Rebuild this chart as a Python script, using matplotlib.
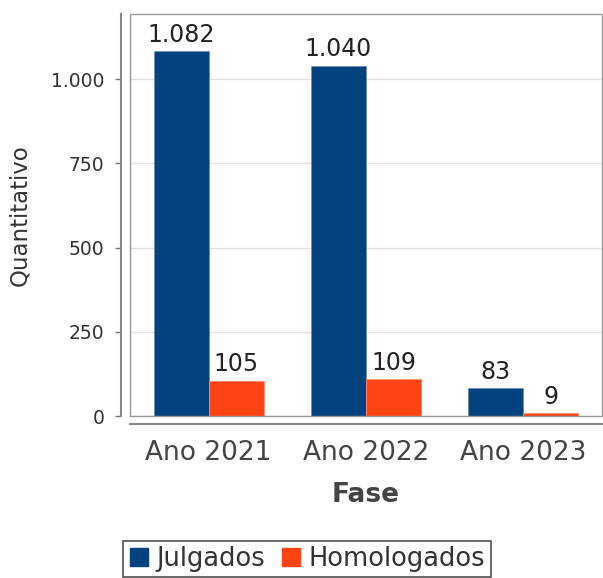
import numpy as np
import matplotlib
matplotlib.use("Agg")
import matplotlib.pyplot as plt
from matplotlib.patches import Rectangle
from matplotlib.lines import Line2D

# data
categorias = ["Ano 2021", "Ano 2022", "Ano 2023"]
julgados = [1082, 1040, 83]
homologados = [105, 109, 9]
yticks = [0, 250, 500, 750, 1000]
ytick_labels = ["0", "250", "500", "750", "1.000"]

cor_julg = "#02427f"
cor_homo = "#ff4312"

fig = plt.figure(figsize=(6.03, 5.78), dpi=100)
ax = fig.add_axes([130/603, 162/578, 472/603, 402/578])

x = np.arange(len(categorias))
w = 0.35
b1 = ax.bar(x - w/2, julgados, w, color=cor_julg, edgecolor="#6f8fb8", linewidth=0.6, zorder=3)
b2 = ax.bar(x + w/2, homologados, w, color=cor_homo, edgecolor="#ff8c70", linewidth=0.6, zorder=3)

def fmt(v):
    return "{:,}".format(v).replace(",", ".")

for bars, vals in [(b1, julgados), (b2, homologados)]:
    for r, v in zip(bars, vals):
        ax.annotate(fmt(v), (r.get_x() + r.get_width()/2, r.get_height()),
                    xytext=(0, 3), textcoords="offset points",
                    ha="center", va="bottom", fontsize=17, color="#222222")

ax.set_xlim(-0.5, 2.5)
ax.set_ylim(0, 1193)
ax.set_yticks(yticks)
ax.set_yticklabels(ytick_labels)
ax.set_xticks(x)
ax.set_xticklabels(categorias)
ax.yaxis.grid(True, color="#e2e2e2", linewidth=1, zorder=0)
ax.set_axisbelow(True)

ax.tick_params(axis="y", direction="out", length=4, width=1, color="#777777",
               labelsize=13.5, labelcolor="#333333", pad=8)
ax.tick_params(axis="x", length=0, labelsize=19, labelcolor="#444444", pad=11)

for s in ["top", "right"]:
    ax.spines[s].set_visible(False)
ax.spines["left"].set_position(("outward", 6.5))
ax.spines["bottom"].set_position(("outward", 6))
ax.spines["left"].set_color("#888888")
ax.spines["bottom"].set_color("#888888")
ax.spines["left"].set_linewidth(1.5)
ax.spines["bottom"].set_linewidth(1.5)

# plot border
ax.add_patch(Rectangle((0, 0), 1, 1, transform=ax.transAxes, fill=False,
                       edgecolor="#999999", linewidth=1, clip_on=False, zorder=5))

ax.set_ylabel("Quantitativo", fontsize=16.5, color="#333333", labelpad=14)
ax.set_xlabel("Fase", fontsize=19, fontweight="bold", color="#444444", labelpad=12)

handles = [Line2D([], [], marker="s", linestyle="none", markersize=13, color=cor_julg),
           Line2D([], [], marker="s", linestyle="none", markersize=13, color=cor_homo)]
leg = fig.legend(handles, ["Julgados", "Homologados"], loc="upper center",
                 bbox_to_anchor=(0.509, 0.087), ncol=2, fontsize=18.5,
                 frameon=True, fancybox=False, handlelength=0.8, handletextpad=0.3,
                 columnspacing=0.6, borderpad=0.2, labelcolor="#333333")
leg.get_frame().set_edgecolor("#222222")
leg.get_frame().set_linewidth(1.2)

fig.savefig("out.png", dpi=100)
